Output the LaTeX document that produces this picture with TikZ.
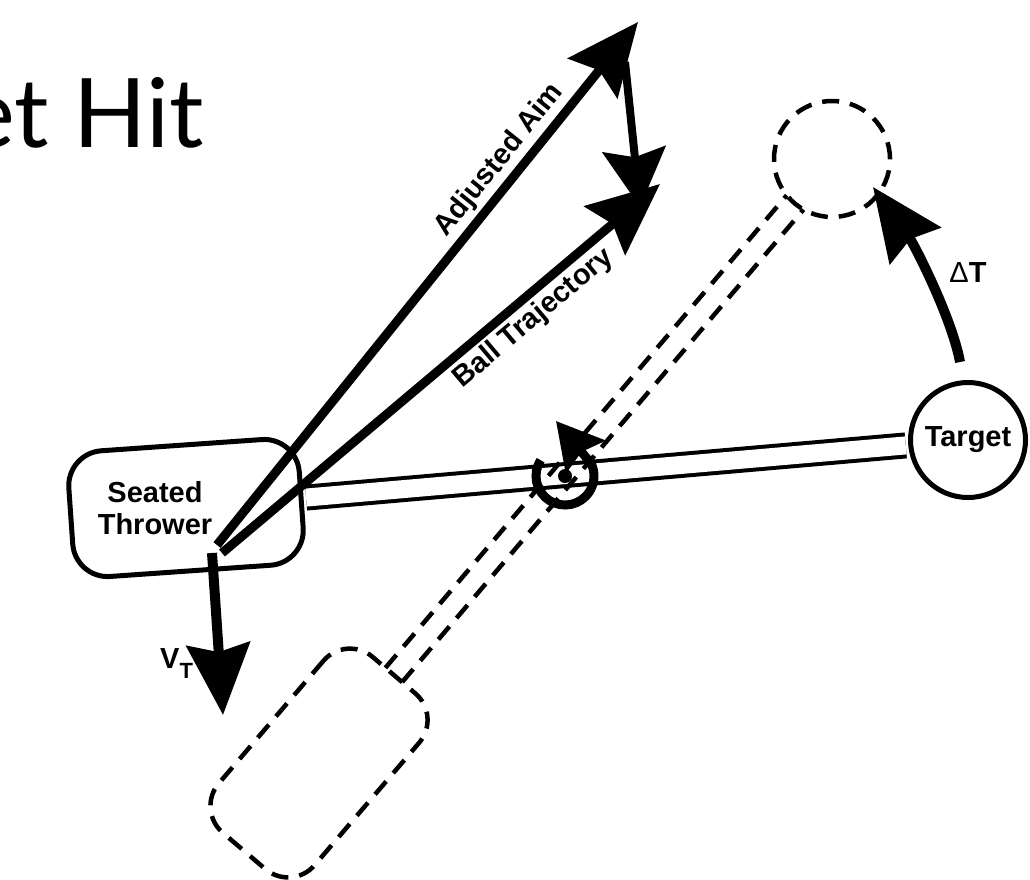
\documentclass[tikz,border=0pt]{standalone}
\usepackage{fontspec}
\setmainfont{Liberation Sans}
\newfontfamily\titlefont{Lato}
\usetikzlibrary{arrows.meta,calc}

\begin{document}
\begin{tikzpicture}[x=1pt,y=-1pt,
                    throw/.style={line width=9pt,-{Stealth[length=72pt,width=63pt,inset=10pt]}},
                    ghost/.style={line width=4.5pt,dash pattern=on 17pt off 11pt}]
  \tikzstyle{every node}=[font=\bfseries\fontsize{29}{32}\selectfont]
  \tikzstyle{seat}=[line width=5pt,rounded corners=35pt,minimum width=231pt,minimum height=126pt]

  \useasboundingbox (0,0) rectangle (1030,879);

  % slide title, cut at the left
  \node[anchor=base east,inner sep=0pt,font=\titlefont\fontsize{96}{96}\selectfont] (title) at (204,147) {et Hit};

  % thrower and target, now and later
  \node[draw,seat,rotate=4] (thrower) at (186,508) {};
  \node[align=center] (throwertext) at (155,508) {Seated\\Thrower};
  \node[draw,circle,line width=5pt,minimum size=115pt,inner sep=0pt] (target) at (968,440) {Target};
  \node[draw,seat,ghost,rotate=49.5] (ghostthrower) at (319,763) {};
  \node[draw,circle,ghost,minimum size=116pt] (ghosttarget) at (832,159) {};

  \coordinate (pivot)     at (565,476);
  \coordinate (pivottip)  at (556,421);
  \coordinate (aimstart)  at (217,545);
  \coordinate (aimtip)    at (638,22);
  \coordinate (ballstart) at (222,553);
  \coordinate (balltip)   at (660,184);
  \coordinate (fixstart)  at (625,62);
  \coordinate (fixtip)    at (640,207);
  \coordinate (vstart)    at (212,553);
  \coordinate (vtip)      at (223,715);
  \coordinate (dtstart)   at (960,362);
  \coordinate (dttip)     at (873,187);

  % rods
  \draw[line width=4pt,double,double distance=18pt,shorten <=2.5pt,shorten >=2.5pt] (thrower) -- (target);
  \draw[ghost,shorten <=115.5pt,shorten >=57pt]
    ($(ghostthrower)!11pt!-90:(ghosttarget)$) -- ($(ghosttarget)!11pt!90:(ghostthrower)$);
  \draw[ghost,shorten <=115.5pt,shorten >=57pt]
    ($(ghostthrower)!11pt!90:(ghosttarget)$) -- ($(ghosttarget)!11pt!-90:(ghostthrower)$);

  % spin at the pivot
  \draw[line width=9pt,-{Stealth[length=46pt,width=50pt,inset=6pt]}]
    ($(pivot)+(147:29pt)$) arc[start angle=147,end angle=385,radius=29pt] -- (pivottip);
  \fill (pivot) circle (7pt);

  % throws
  \draw[throw] (aimstart) -- node[pos=0.71,sloped,above] (aimlabel) {Adjusted Aim} (aimtip);
  \draw[throw] (ballstart) -- node[pos=0.68,sloped,below] (balllabel) {Ball Trajectory} (balltip);
  \draw[line width=8pt,-{Stealth[length=58pt,width=63pt,inset=8pt]}] (fixstart) -- (fixtip);

  % motions
  \draw[line width=10pt,-{Stealth[length=71pt,width=63pt,inset=8pt]}] (vstart) -- (vtip);
  \node[anchor=base west,inner sep=0pt] (vlabel) at (160,668) {V\raisebox{-10pt}{\fontsize{22}{22}\selectfont T}};
  \draw[line width=10pt,-{Stealth[length=72pt,width=62pt,inset=8pt]}]
    (dtstart) .. controls (952,318) and (914,244) .. (dttip);
  \node (dtlabel) at (968,273) {\mdseries Δ\bfseries T};

\end{tikzpicture}
\end{document}
